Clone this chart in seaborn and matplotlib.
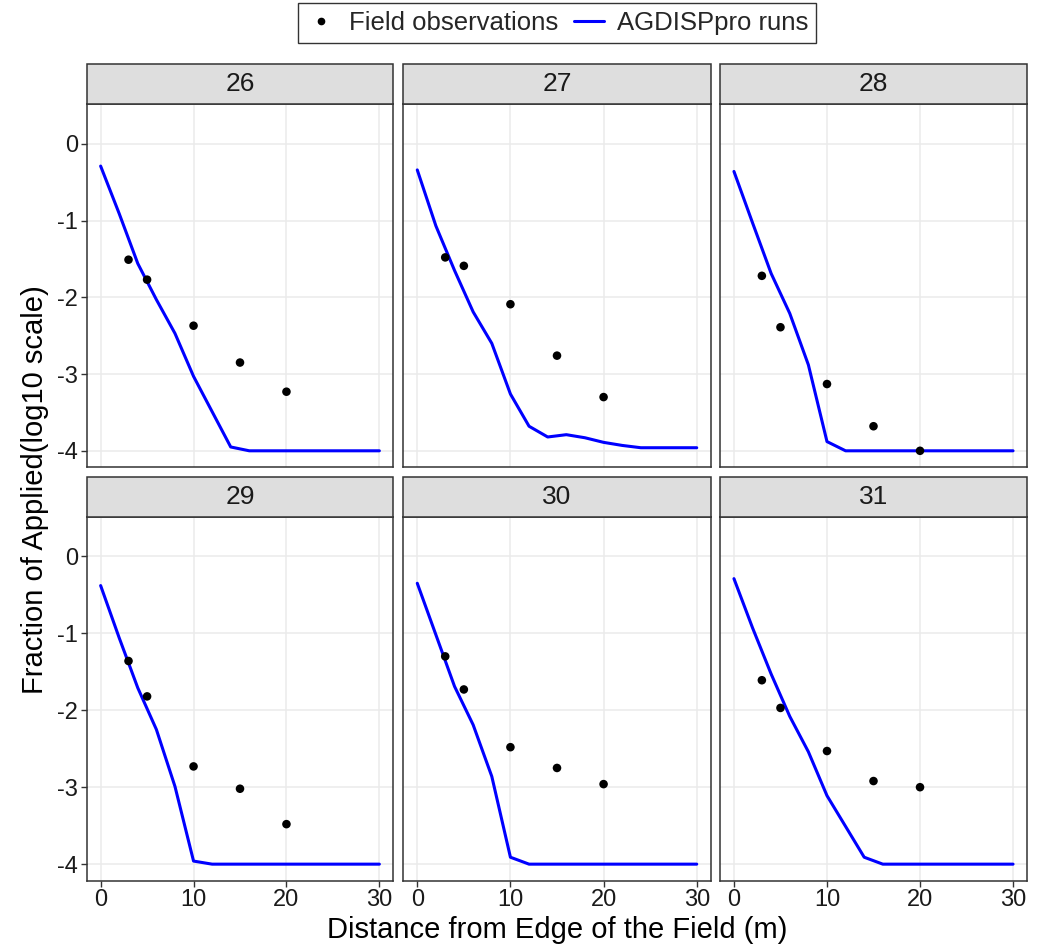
import matplotlib
matplotlib.use("Agg")
import matplotlib.pyplot as plt
from matplotlib.lines import Line2D
from matplotlib.patches import Rectangle
import seaborn as sns
import pandas as pd

sns.set_theme(style="white")
plt.rcParams['font.family'] = ['Liberation Sans', 'DejaVu Sans']
plt.rcParams['axes.unicode_minus'] = False

runs = [26, 27, 28, 29, 30, 31]
model_dist = [0, 2, 4, 6, 8, 10, 12, 14, 16, 18, 20, 22, 24, 26, 28, 30]
model_26 = [-0.29, -0.91, -1.56, -2.03, -2.47, -3.03, -3.49, -3.95, -4.0, -4.0, -4.0, -4.0, -4.0, -4.0, -4.0, -4.0]
model_27 = [-0.34, -1.07, -1.65, -2.19, -2.60, -3.26, -3.68, -3.82, -3.79, -3.83, -3.89, -3.93, -3.96, -3.96, -3.96, -3.96]
model_28 = [-0.36, -1.03, -1.69, -2.21, -2.88, -3.88, -4.0, -4.0, -4.0, -4.0, -4.0, -4.0, -4.0, -4.0, -4.0, -4.0]
model_29 = [-0.38, -1.06, -1.71, -2.25, -2.99, -3.96, -4.0, -4.0, -4.0, -4.0, -4.0, -4.0, -4.0, -4.0, -4.0, -4.0]
model_30 = [-0.35, -1.02, -1.69, -2.19, -2.86, -3.91, -4.0, -4.0, -4.0, -4.0, -4.0, -4.0, -4.0, -4.0, -4.0, -4.0]
model_31 = [-0.29, -0.93, -1.53, -2.08, -2.54, -3.11, -3.51, -3.91, -4.0, -4.0, -4.0, -4.0, -4.0, -4.0, -4.0, -4.0]

obs_dist = [3, 5, 10, 15, 20]
obs_26 = [-1.51, -1.77, -2.37, -2.85, -3.23]
obs_27 = [-1.48, -1.59, -2.09, -2.76, -3.30]
obs_28 = [-1.72, -2.39, -3.13, -3.68, -4.00]
obs_29 = [-1.36, -1.82, -2.73, -3.02, -3.48]
obs_30 = [-1.30, -1.73, -2.48, -2.75, -2.96]
obs_31 = [-1.61, -1.97, -2.53, -2.92, -3.00]

x_ticks = [0, 10, 20, 30]
y_ticks = [0, -1, -2, -3, -4]

model_vals = dict(zip(runs, [model_26, model_27, model_28, model_29, model_30, model_31]))
obs_vals = dict(zip(runs, [obs_26, obs_27, obs_28, obs_29, obs_30, obs_31]))

model_df = pd.concat([pd.DataFrame({"run": r, "dist": model_dist, "val": model_vals[r]}) for r in runs])
obs_df = pd.concat([pd.DataFrame({"run": r, "dist": obs_dist, "val": obs_vals[r]}) for r in runs])

W, H = 1043, 947
fig = plt.figure(figsize=(W / 100, H / 100), dpi=100)

lefts = [86.7, 403.3, 720.0]
rights = [393.3, 710.7, 1027.0]
rows = [(104.3, 467.3, 64.3), (516.7, 880.7, 477.3)]  # (panel top, panel bottom, strip top)

border = "#333333"
for i, r in enumerate(runs):
    row, col = divmod(i, 3)
    top, bot, stop = rows[row]
    ax = fig.add_axes([lefts[col] / W, 1 - bot / H, (rights[col] - lefts[col]) / W, (bot - top) / H])
    d_m = model_df[model_df.run == r]
    d_o = obs_df[obs_df.run == r]
    sns.lineplot(data=d_m, x="dist", y="val", ax=ax, color="#0000FF", linewidth=2.2, zorder=3, legend=False)
    sns.scatterplot(data=d_o, x="dist", y="val", ax=ax, color="black", s=38, edgecolor="none", zorder=4, legend=False)
    ax.set_xlim(-1.5, 31.5)
    ax.set_ylim(-4.215, 0.515)
    ax.set_xticks(x_ticks)
    ax.set_yticks(y_ticks)
    ax.grid(True, color="#EBEBEB", linewidth=1.1, zorder=0)
    ax.set_axisbelow(True)
    for s in ax.spines.values():
        s.set_color(border)
        s.set_linewidth(1.1)
        s.set_visible(True)
    ax.set_xlabel("")
    ax.set_ylabel("")
    ax.tick_params(axis="both", which="major", length=4, width=1.0, color=border,
                   labelsize=17, labelcolor="#1A1A1A", pad=2, direction="out",
                   bottom=(row == 1), left=(col == 0),
                   labelbottom=(row == 1), labelleft=(col == 0))
    # strip
    sx = lefts[col] / W
    sy = 1 - top / H
    sw = (rights[col] - lefts[col]) / W
    sh = (top - stop) / H
    rect = Rectangle((sx, sy), sw, sh, transform=fig.transFigure, facecolor="#DEDEDE",
                     edgecolor=border, linewidth=1.1)
    fig.add_artist(rect)
    fig.text(sx + sw / 2, sy + sh / 2, str(r), ha="center", va="center", fontsize=19, color="#1A1A1A")

fig.text((86.7 + 1027) / 2 / W, 1 - 930 / H, "Distance from Edge of the Field (m)",
         ha="center", va="center", fontsize=21, color="black")
fig.text(35 / W, 1 - 490 / H, "Fraction of Applied(log10 scale)", ha="center", va="center",
         rotation=90, fontsize=21, color="black")

handles = [
    Line2D([], [], marker="o", linestyle="none", color="black", markersize=4.5),
    Line2D([], [], color="#0000FF", linewidth=2.2),
]
leg = fig.legend(handles, ["Field observations", "AGDISPpro runs"], loc="center",
                 bbox_to_anchor=(557 / W, 1 - 23 / H), ncol=2, frameon=True, fontsize=18.5,
                 handlelength=1.2, handletextpad=0.5, columnspacing=0.6, borderpad=0.3,
                 fancybox=False, edgecolor="black")
leg.get_frame().set_linewidth(1.0)

fig.savefig("out.png", dpi=100)
